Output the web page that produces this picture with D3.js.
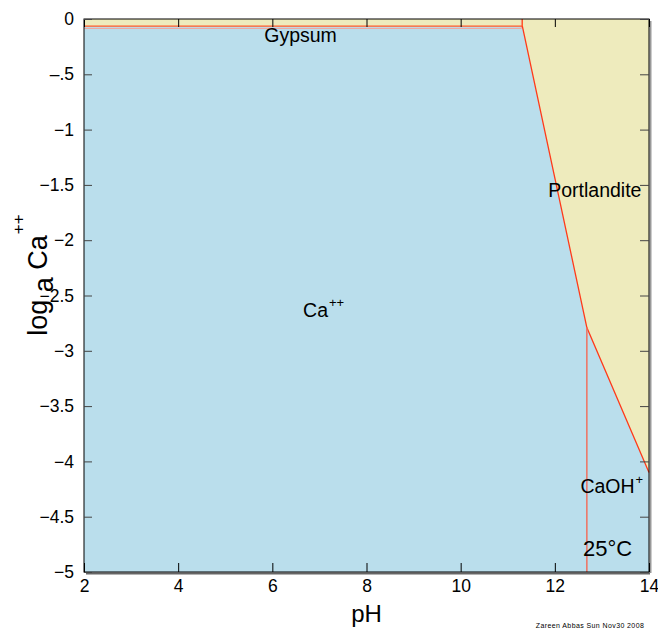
<!DOCTYPE html>
<html>
<head>
<meta charset="utf-8">
<script src="https://cdn.jsdelivr.net/npm/d3@7"></script>
<style>
body { margin:0; background:#fff; }
text { font-family: Arial, "Liberation Sans", sans-serif; fill:#000; }
</style>
</head>
<body>
<svg id="chart" width="658" height="630"></svg>
<script>
// axis ticks
var xticks = [2, 4, 6, 8, 10, 12, 14];
var yticks = [0, -0.5, -1, -1.5, -2, -2.5, -3, -3.5, -4, -4.5, -5];
var ylabels = ["0", "\u2013.5", "\u22121", "\u22121.5", "\u22122", "\u22122.5", "\u22123", "\u22123.5", "\u22124", "\u22124.5", "\u22125"];

// boundaries (pH, log a Ca++)
var gypsum_line = [[2, -0.065], [11.31, -0.065], [11.31, 0]];
var portlandite_line = [[11.31, -0.065], [12.68, -2.79], [14, -4.1]];
var caoh_line = [[12.68, -2.79], [12.68, -5]];
var ca_region = [[2, -5], [2, -0.065], [11.31, -0.065], [12.68, -2.79], [14, -4.1], [14, -5]];

// field labels
var field_names = ["Gypsum", "Ca", "Portlandite", "CaOH"];
var field_sup = ["", "++", "", "+"];
var field_pos = [[6.6, -0.21], [7.09, -2.69], [12.85, -1.61], [13.21, -4.29]];

var svg = d3.select("#chart");
var pleft = 84, pright = 649, ptop = 19, pbottom = 572;

var x = d3.scaleLinear().domain([2, 14]).range([pleft, pright]);
var y = d3.scaleLinear().domain([0, -5]).range([ptop, pbottom]);

var line = d3.line().x(function(d){ return x(d[0]); }).y(function(d){ return y(d[1]); });

// background (stable minerals)
svg.append("rect").attr("x", pleft).attr("y", ptop).attr("width", pright-pleft).attr("height", pbottom-ptop).style("fill", "#eeebbd");
svg.append("path").attr("d", line(ca_region) + "Z").style("fill", "#badeec");

// boundaries
svg.append("path").attr("d", line([[2, -0.085], [11.29, -0.085], [11.29, 0]])).style("fill", "none").style("stroke", "#f2a39a").style("stroke-width", 1);
svg.append("path").attr("d", line(gypsum_line)).style("fill", "none").style("stroke", "#ff5a2a").style("stroke-width", 1.3);
svg.append("path").attr("d", line(portlandite_line)).style("fill", "none").style("stroke", "#ff3a1a").style("stroke-width", 1.3);
svg.append("path").attr("d", line(caoh_line)).style("fill", "none").style("stroke", "#f07060").style("stroke-width", 1.5);

// frame + shadow
svg.append("line").attr("x1", pright+1.5).attr("y1", ptop+2).attr("x2", pright+1.5).attr("y2", pbottom+1).style("stroke", "#999").style("stroke-width", 2);
svg.append("line").attr("x1", pleft+2).attr("y1", pbottom+1.5).attr("x2", pright+1).attr("y2", pbottom+1.5).style("stroke", "#666").style("stroke-width", 2);
svg.append("rect").attr("x", pleft).attr("y", ptop).attr("width", pright-pleft).attr("height", pbottom-ptop).style("fill", "none").style("stroke", "#000").style("stroke-width", 1);

// axes with inward ticks
var gb = svg.append("g").attr("transform", "translate(0," + pbottom + ")")
	.call(d3.axisBottom(x).tickValues(xticks).tickSizeInner(-9).tickSizeOuter(0).tickPadding(8));
var gt = svg.append("g").attr("transform", "translate(0," + ptop + ")")
	.call(d3.axisTop(x).tickValues(xticks).tickSizeInner(-8).tickSizeOuter(0).tickFormat(""));
var gl = svg.append("g").attr("transform", "translate(" + pleft + ",0)")
	.call(d3.axisLeft(y).tickValues(yticks).tickSizeInner(-8).tickSizeOuter(0).tickPadding(10)
		.tickFormat(function(d, i){ return ylabels[i]; }));
var gr = svg.append("g").attr("transform", "translate(" + pright + ",0)")
	.call(d3.axisRight(y).tickValues(yticks).tickSizeInner(-9).tickSizeOuter(0).tickFormat(""));
[gb, gt, gl, gr].forEach(function(g){
	g.select(".domain").remove();
	g.selectAll("line").style("stroke", "#000");
	g.selectAll("text").style("font-size", "17.5px").style("font-family", "Arial, 'Liberation Sans', sans-serif");
});
gl.selectAll("line").style("stroke", "#444");
gr.selectAll("line").style("stroke", "#444");

// field names
field_names.forEach(function(name, i){
	var t = svg.append("text")
		.attr("x", x(field_pos[i][0])).attr("y", y(field_pos[i][1]))
		.attr("text-anchor", "middle")
		.style("font-size", "19.5px");
	t.append("tspan").text(name);
	if (field_sup[i] != "") {
		t.append("tspan").attr("dy", "-0.7em").attr("dx", "1").style("font-size", "13px").text(field_sup[i]);
	}
});

svg.append("text").attr("x", x(13.12)).attr("y", y(-4.855)).attr("text-anchor", "middle").style("font-size", "22px").text("25\u00b0C");

// axis titles
svg.append("text").attr("x", (pleft+pright)/2).attr("y", 622).attr("text-anchor", "middle").style("font-size", "24px").text("pH");

var yl = svg.append("text").attr("transform", "translate(47,275) rotate(-90)").attr("text-anchor", "middle").style("font-size", "27px");
yl.append("tspan").text("log");
yl.append("tspan").attr("dy", "6").text(" a");
yl.append("tspan").attr("dy", "-6").text(" Ca");
yl.append("tspan").attr("dy", "-23").attr("dx", "1").style("font-size", "17px").text("++");

svg.append("text").attr("x", 590).attr("y", 628).attr("text-anchor", "middle").style("font-size", "7px").style("letter-spacing", "0.4px").text("Zareen Abbas Sun Nov30 2008");
</script>
</body>
</html>
